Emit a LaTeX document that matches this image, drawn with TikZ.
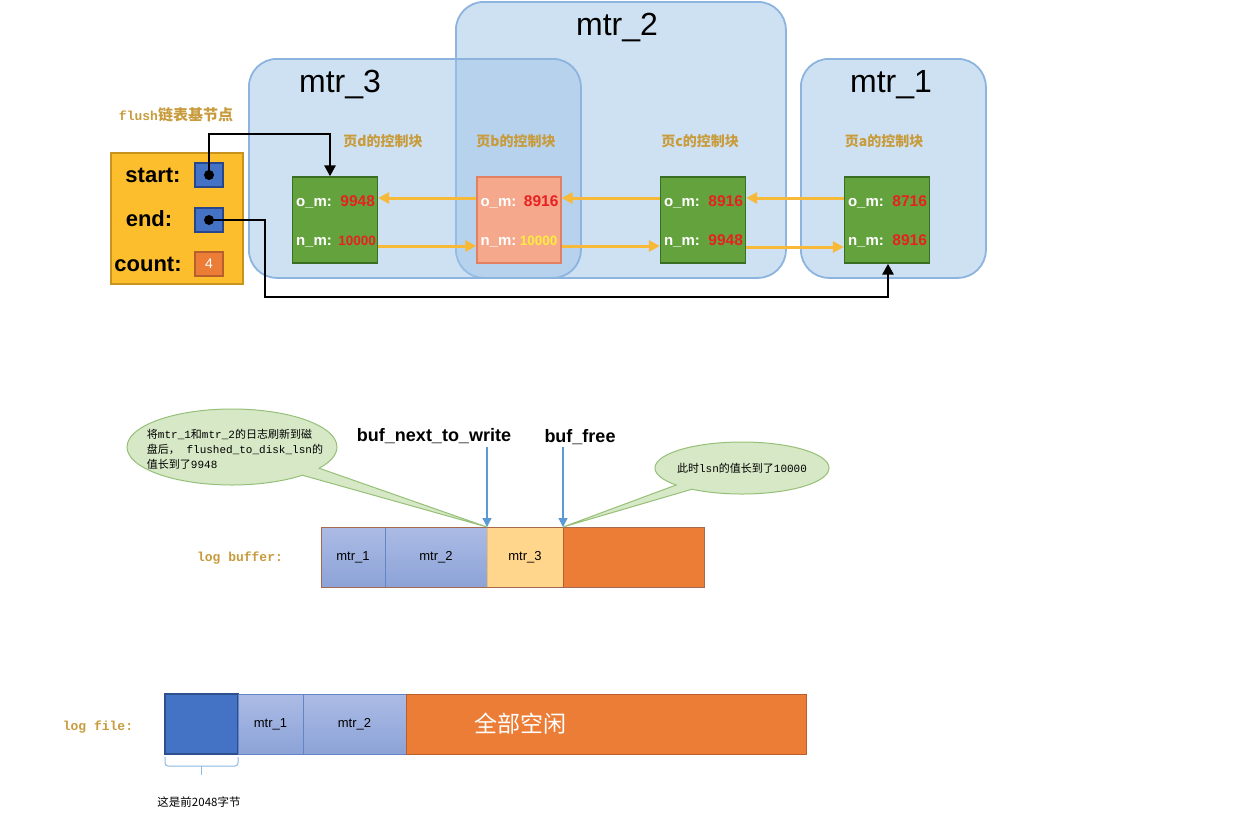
\documentclass[tikz,border=0pt]{standalone}
\usepackage{fontspec}
\setmainfont{Liberation Sans}
\newfontfamily\cjk{Noto Sans CJK SC}
\newfontfamily\mono{Liberation Mono}
\usetikzlibrary{arrows.meta,shapes.callouts,calc}
\newcommand{\fsz}[1]{\fontsize{#1}{#1}\selectfont}
\definecolor{mtrfill}{RGB}{159,197,231}
\definecolor{mtrline}{RGB}{140,180,222}
\definecolor{gfill}{RGB}{100,162,62}
\definecolor{gline}{RGB}{58,110,35}
\definecolor{sfill}{RGB}{246,168,140}
\definecolor{sline}{RGB}{228,128,98}
\definecolor{valred}{RGB}{232,32,32}
\definecolor{valyel}{RGB}{255,236,60}
\definecolor{yarrow}{RGB}{247,185,55}
\definecolor{flfill}{RGB}{252,190,45}
\definecolor{flline}{RGB}{200,148,30}
\definecolor{sqblue}{RGB}{68,114,196}
\definecolor{sqline}{RGB}{40,70,140}
\definecolor{orfill}{RGB}{235,125,55}
\definecolor{orline}{RGB}{185,95,45}
\definecolor{gold}{RGB}{200,155,60}
\definecolor{bluearr}{RGB}{91,155,213}
\definecolor{clfill}{RGB}{214,232,198}
\definecolor{clline}{RGB}{150,192,120}
\definecolor{ltbluetop}{RGB}{172,187,229}
\definecolor{ltbluebot}{RGB}{140,163,215}
\definecolor{cellline}{RGB}{100,132,200}
\definecolor{m3fill}{RGB}{255,214,140}
\definecolor{m3line}{RGB}{240,190,110}
\definecolor{barout}{RGB}{165,105,80}
\definecolor{darkblue}{RGB}{68,114,196}
\definecolor{darkbline}{RGB}{45,80,140}
\definecolor{bracec}{RGB}{140,185,225}
\begin{document}
\begin{tikzpicture}[x=1pt,y=-1pt,
  mtrbox/.style={draw=mtrline, line width=1.8pt, fill=mtrfill, fill opacity=0.5, rounded corners=28pt, inner sep=0pt, anchor=north west},
  mtrlabel/.style={font=\fsz{32}, inner sep=0pt},
  flushbox/.style={draw=flline, line width=1.5pt, fill=flfill, inner sep=0pt, anchor=north west},
  flushtxt/.style={font=\fsz{22}\bfseries, inner sep=0pt},
  sqbox/.style={draw=sqline, line width=1.2pt, fill=sqblue, minimum width=28, minimum height=24, inner sep=0pt},
  cntbox/.style={draw=orline, line width=1.2pt, fill=orfill, minimum width=28, minimum height=24, inner sep=0pt, text=white, font=\fsz{14}},
  gblock/.style={draw=gline, line width=1.3pt, fill=gfill, minimum width=85, minimum height=86, inner sep=0pt},
  sblock/.style={draw=sline, line width=1.3pt, fill=sfill, minimum width=84, minimum height=86, inner sep=0pt},
  fieldlab/.style={font=\fsz{15}\bfseries, text=white, inner sep=0pt, anchor=base west},
  valtxt/.style={font=\fsz{15.5}\bfseries, text=valred, inner sep=0pt, anchor=base east},
  valsmall/.style={font=\fsz{13.5}\bfseries, text=valred, inner sep=0pt, anchor=base east},
  blocktitle/.style={font=\cjk\fsz{14}\bfseries, text=gold, inner sep=0pt},
  yarr/.style={draw=yarrow, line width=3pt, -{Triangle[length=11pt,width=11pt]}},
  barr/.style={draw=black, line width=2.8pt, -{Triangle[length=11pt,width=11pt]}},
  callbox/.style={ellipse callout, draw=clline, fill=clfill, line width=1pt, inner sep=0pt, callout pointer arc=14},
  calltxt/.style={font=\mono\fsz{11}, align=left, inner sep=0pt},
  buflab/.style={font=\fsz{18}\bfseries, inner sep=0pt},
  bluearrow/.style={draw=bluearr, line width=1.3pt, -{Triangle[length=9pt,width=9pt]}},
  bluecell/.style={draw=cellline, line width=1pt, top color=ltbluetop, bottom color=ltbluebot, minimum height=60, inner sep=0pt, outer sep=0pt, anchor=north west, font=\fsz{13}},
  m3cell/.style={draw=m3line, line width=1pt, fill=m3fill, minimum height=60, inner sep=0pt, outer sep=0pt, anchor=north west, font=\fsz{13}},
  orcell/.style={draw=orline, line width=1pt, fill=orfill, minimum height=60, inner sep=0pt, outer sep=0pt, anchor=north west},
  dbcell/.style={draw=darkbline, line width=1.5pt, fill=darkblue, minimum height=60, inner sep=0pt, outer sep=0pt, anchor=north west},
  goldmono/.style={font=\mono\fsz{13}\bfseries, text=gold, inner sep=0pt}
]
\useasboundingbox (0,0) rectangle (1249,828);
\fill[white] (0,0) rectangle (1249,828);

% mtr groups
\node[mtrbox, minimum width=330, minimum height=276] (m2) at (455,1) {};
\node[mtrbox, minimum width=332, minimum height=219] (m3) at (248,58) {};
\node[mtrbox, minimum width=185, minimum height=219] (m1) at (800,58) {};
\node[mtrlabel] (m2l) at (617,28) {mtr\_2};
\node[mtrlabel] (m3l) at (340,85) {mtr\_3};
\node[mtrlabel] (m1l) at (891,85) {mtr\_1};

% flush base node
\node[font=\fsz{13}, inner sep=0pt] (flt) at (176,115) {{\mono\bfseries\color{gold}flush}{\cjk\bfseries\color{gold}\fsz{15}链表基节点}};
\node[flushbox, minimum width=132, minimum height=131] (fl) at (110,152) {};
\node[flushtxt] (st) at (153,175) {start:};
\node[flushtxt] (en) at (149,219) {end:};
\node[flushtxt] (ct) at (148,264) {count:};
\node[sqbox] (sq1) at (209,175) {};
\node[sqbox] (sq2) at (209,220) {};
\node[cntbox] (sq3) at (209,264) {4};
\coordinate (sd) at (sq1.center);
\coordinate (ed) at (sq2.center);

% control blocks
\node[gblock] (d) at (335,220) {};
\node[sblock] (b) at (519,220) {};
\node[gblock] (c) at (703,220) {};
\node[gblock] (a) at (887,220) {};

\node[blocktitle] (td) at (383,141) {页d的控制块};
\node[blocktitle] (tb) at (516,141) {页b的控制块};
\node[blocktitle] (tc) at (700,141) {页c的控制块};
\node[blocktitle] (ta) at (884,141) {页a的控制块};

\node[fieldlab] (d1) at ($(d.west)+(4,-14)$) {o\_m:};
\node[valtxt] (d1v) at ($(d.east)+(-3,-14)$) {9948};
\node[fieldlab] (d2) at ($(d.west)+(4,25)$) {n\_m:};
\node[valsmall] (d2v) at ($(d.east)+(-2,25)$) {10000};

\node[fieldlab] (b1l) at ($(b.west)+(4,-14)$) {o\_m:};
\node[valtxt] (b1v) at ($(b.east)+(-3,-14)$) {8916};
\node[fieldlab] (b2l) at ($(b.west)+(4,25)$) {n\_m:};
\node[valsmall, text=valyel] (b2v) at ($(b.east)+(-4,25)$) {10000};

\node[fieldlab] (c1l) at ($(c.west)+(4,-14)$) {o\_m:};
\node[valtxt] (c1v) at ($(c.east)+(-3,-14)$) {8916};
\node[fieldlab] (c2l) at ($(c.west)+(4,25)$) {n\_m:};
\node[valtxt] (c2v) at ($(c.east)+(-3,25)$) {9948};

\node[fieldlab] (a1l) at ($(a.west)+(4,-14)$) {o\_m:};
\node[valtxt] (a1v) at ($(a.east)+(-3,-14)$) {8716};
\node[fieldlab] (a2l) at ($(a.west)+(4,25)$) {n\_m:};
\node[valtxt] (a2v) at ($(a.east)+(-3,25)$) {8916};

% yellow arrows
\draw[yarr] ([yshift=22pt]a.west) -- ([yshift=22pt]c.east);
\draw[yarr] ([yshift=22pt]c.west) -- ([yshift=22pt]b.east);
\draw[yarr] ([yshift=22pt]b.west) -- ([yshift=22pt]d.east);
\draw[yarr] ([yshift=-26pt]d.east) -- ([yshift=-26pt]b.west);
\draw[yarr] ([yshift=-26pt]b.east) -- ([yshift=-26pt]c.west);
\draw[yarr] ([yshift=-27pt]c.east) -- ([yshift=-27pt]a.west);

% black pointers
\draw[barr] (sd) -- ++(0,-41) -| ([xshift=-5pt]d.north);
\draw[barr] (ed) -- ++(56,0) -- ++(0,77) -| ([xshift=1pt]a.south);
\fill (sd) circle (5pt);
\fill (ed) circle (5pt);

% log buffer
\node[goldmono] (lbl) at (240,558) {log buffer:};
\node[bluecell, minimum width=64] (lb1) at (321,527) {mtr\_1};
\node[bluecell, minimum width=102] (lb2) at (lb1.north east) {mtr\_2};
\node[m3cell, minimum width=76] (lb3) at (lb2.north east) {mtr\_3};
\node[orcell, minimum width=141] (lb4) at (lb3.north east) {};
\draw[barout, line width=1pt] (lb1.north west) rectangle (lb4.south east);

\node[buflab] (bnw) at (434,436) {buf\_next\_to\_write};
\node[buflab] (bfr) at (580,437) {buf\_free};
\draw[bluearrow] ([yshift=-3pt]bnw.south -| lb3.north west) -- (lb3.north west);
\draw[bluearrow] ([yshift=-2pt]bfr.south -| lb4.north west) -- (lb4.north west);

% callouts
\node[callbox, minimum width=210, minimum height=76, callout absolute pointer={(lb3.north west)}] (co1) at (232,447) {};
\node[calltxt] (co1t) at (235,449) {%
{\cjk 将}mtr\_1{\cjk 和}mtr\_2{\cjk 的日志刷新到磁}\\[4pt]
{\cjk 盘后，} flushed\_to\_disk\_lsn{\cjk 的}\\[4pt]
{\cjk 值长到了}9948};
\node[callbox, minimum width=174, minimum height=52, callout absolute pointer={(lb4.north west)}] (co2) at (742,468) {};
\node[calltxt] (co2t) at (742,468) {{\cjk 此时}lsn{\cjk 的值长到了}10000};

% log file
\node[goldmono] (lfl) at (98,727) {log file:};
\node[dbcell, minimum width=73] (lf0) at (165,694) {};
\node[bluecell, minimum width=65] (lf1) at (lf0.north east) {mtr\_1};
\node[bluecell, minimum width=103] (lf2) at (lf1.north east) {mtr\_2};
\node[orcell, minimum width=400] (lf3) at (lf2.north east) {};
\node[font=\cjk\fsz{23}, text=white, inner sep=0pt] (free) at (520,724) {全部空闲};

% brace
\draw[bracec, line width=1pt, rounded corners=3pt] ([yshift=-3pt]lf0.south west) -- ++(0,9) -| ([yshift=-3pt]lf0.south east);
\coordinate (brm) at ($(lf0.south west)!0.5!(lf0.south east)+(0,12)$);
\draw[bracec, line width=1pt] (brm) -- ++(0,9);
\node[font=\cjk\fsz{11.5}, inner sep=0pt] (note) at (199,802) {这是前2048字节};
\end{tikzpicture}
\end{document}
